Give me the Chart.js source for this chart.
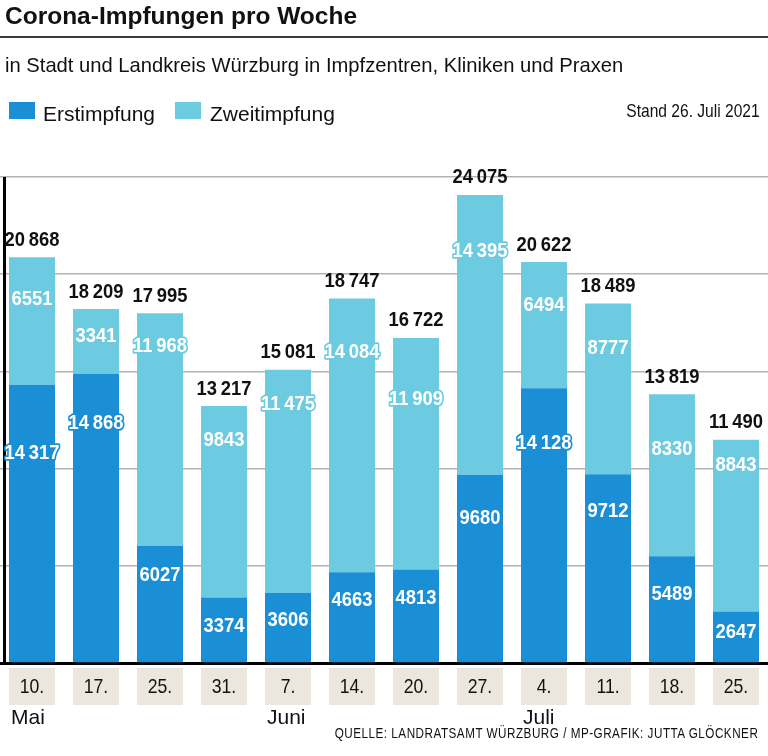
<!DOCTYPE html>
<html><head><meta charset="utf-8">
<script src="https://cdn.jsdelivr.net/npm/chart.js@4"></script>
<style>
html,body{margin:0;padding:0;background:#fff;}
#wrap{position:relative;width:768px;height:756px;overflow:hidden;background:#fff;}
#c{position:absolute;left:0;top:0;}
.t{position:absolute;white-space:nowrap;color:#111;line-height:1;z-index:2;font-family:"Liberation Sans",Arial,sans-serif;}
#title{left:5px;top:4px;font-weight:bold;font-size:24.5px;}
#rule{position:absolute;left:0;top:35.5px;width:768px;height:2px;background:#3a3a3a;z-index:2;}
#sub{left:5px;top:55px;font-size:20.2px;}
.sq{position:absolute;top:101.5px;width:26px;height:17.5px;z-index:2;}
.lg{top:103px;font-size:21px;}
#stand{right:8px;top:100.5px;font-size:19px;transform:scaleX(0.82);transform-origin:100% 50%;}
#foot{right:10px;top:725.5px;font-size:14px;letter-spacing:0.6px;transform:scaleX(0.835);transform-origin:100% 50%;}
</style></head>
<body>
<div id="wrap">
<canvas id="c" width="768" height="756"></canvas>
<div class="t" id="title">Corona-Impfungen pro Woche</div>
<div id="rule"></div>
<div class="t" id="sub">in Stadt und Landkreis Würzburg in Impfzentren, Kliniken und Praxen</div>
<div class="sq" style="left:9px;background:#1b8fd5"></div>
<div class="t lg" style="left:43px">Erstimpfung</div>
<div class="sq" style="left:175px;background:#6dcbe1"></div>
<div class="t lg" style="left:210px">Zweitimpfung</div>
<div class="t" id="stand">Stand 26. Juli 2021</div>
<div class="t" id="foot">QUELLE: LANDRATSAMT WÜRZBURG / MP-GRAFIK: JUTTA GLÖCKNER</div>
</div>
<script>
// ---- data ----
const weeks  = ['10.','17.','25.','31.','7.','14.','20.','27.','4.','11.','18.','25.'];
const months = ['Mai','','','','Juni','','','','Juli','','',''];
const erst   = [14317,14868,6027,3374,3606,4663,4813,9680,14128,9712,5489,2647];
const zweit  = [6551,3341,11968,9843,11475,14084,11909,14395,6494,8777,8330,8843];
const totals = [20868,18209,17995,13217,15081,18747,16722,24075,20622,18489,13819,11490];
const yTicks = [0,5000,10000,15000,20000,25000];

// label anchors (value level at which each in-bar number sits, as in the original layout)
const erstLabelAt  = [10800,12300,4500,1900,2200,3200,3300,7450,11300,7800,3500,1550];
const zweitLabelAt = [18700,16800,16300,11450,13300,15950,13550,21150,18400,16200,11000,10150];

const C_ERST = '#1b8fd5', C_ZWEIT = '#6dcbe1';
const SANS = '"Liberation Sans", Arial, sans-serif';

function fmt(n){
  const s = String(n);
  return s.length > 4 ? s.slice(0,-3) + '\u2009' + s.slice(-3) : s;
}
// condensed text drawing (horizontal squeeze)
function condText(ctx, txt, x, y, sx, stroke){
  ctx.save();
  ctx.translate(x, y);
  ctx.scale(sx, 1);
  if (stroke) ctx.strokeText(txt, 0, 0);
  ctx.fillText(txt, 0, 0);
  ctx.restore();
}

const decor = {
  id:'decor',
  beforeDatasetsDraw(chart){
    const {ctx, chartArea:a, scales:{x}} = chart;
    ctx.save();
    ctx.fillStyle = '#ebe7df';
    weeks.forEach((w,i)=>{
      const px = x.getPixelForValue(i);
      ctx.fillRect(px-23, a.bottom+5, 46, 37);
    });
    ctx.restore();
  },
  afterDraw(chart){
    const {ctx, chartArea:a, scales:{x,y}} = chart;
    ctx.save();
    // left axis line
    ctx.fillStyle = '#000';
    ctx.fillRect(3, a.top, 3, a.bottom - a.top + 2);
    // week labels
    ctx.fillStyle = '#111';
    ctx.textAlign = 'center';
    ctx.textBaseline = 'middle';
    ctx.font = '21px ' + SANS;
    weeks.forEach((w,i)=>{ condText(ctx, w, x.getPixelForValue(i), a.bottom+24, 0.84); });
    // months
    ctx.font = '21px ' + SANS;
    ctx.textAlign = 'left';
    months.forEach((m,i)=>{ if(m) ctx.fillText(m, x.getPixelForValue(i)-21, a.bottom+55.5); });
    ctx.textAlign = 'center';
    // totals
    ctx.font = 'bold 20px ' + SANS;
    totals.forEach((t,i)=>{
      condText(ctx, fmt(t), x.getPixelForValue(i), y.getPixelForValue(t) - 17, 0.92);
    });
    // in-bar labels
    ctx.lineJoin = 'round';
    ctx.lineWidth = 3.5;
    const inner = (vals, at, col)=>{
      vals.forEach((v,i)=>{
        const px = x.getPixelForValue(i), py = y.getPixelForValue(at[i]);
        ctx.strokeStyle = col;
        ctx.fillStyle = '#fff';
        condText(ctx, fmt(v), px, py, 0.92, true);
      });
    };
    inner(erst, erstLabelAt, C_ERST);
    inner(zweit, zweitLabelAt, C_ZWEIT);
    ctx.restore();
  }
};

new Chart(document.getElementById('c'), {
  type:'bar',
  data:{
    labels: weeks,
    datasets:[
      {label:'Erstimpfung', data:erst, backgroundColor:C_ERST, barPercentage:1, categoryPercentage:46/64},
      {label:'Zweitimpfung', data:zweit, backgroundColor:C_ZWEIT, barPercentage:1, categoryPercentage:46/64}
    ]
  },
  options:{
    responsive:false, animation:false,
    layout:{padding:{top:177,left:0,right:0,bottom:0}},
    plugins:{legend:{display:false}, tooltip:{enabled:false}},
    scales:{
      x:{stacked:true,
         grid:{display:false, drawTicks:false},
         border:{display:true, color:'#000', width:3},
         ticks:{display:false},
         afterFit(s){ s.height = 93; }},
      y:{stacked:true, min:0, max:25000,
         afterFit(s){ s.width = 0; },
         afterBuildTicks(s){ s.ticks = yTicks.map(v=>({value:v})); },
         ticks:{display:false},
         grid:{color:'#b3b3b3', lineWidth:1.5, drawTicks:false},
         border:{display:false}}
    }
  },
  plugins:[decor]
});
</script>
</body></html>
